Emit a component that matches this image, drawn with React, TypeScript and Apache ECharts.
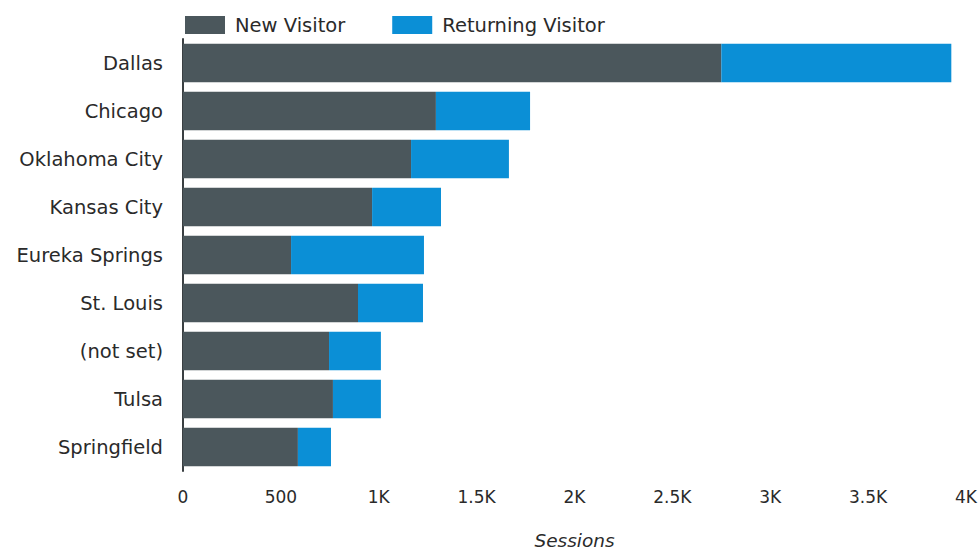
import React, { useEffect, useRef } from "react";
import * as echarts from "echarts";

const categories = ["Dallas", "Chicago", "Oklahoma City", "Kansas City", "Eureka Springs", "St. Louis", "(not set)", "Tulsa", "Springfield"];
const newVisitor = [2750, 1292, 1165, 966, 552, 894, 746, 766, 587];
const returningVisitor = [1175, 481, 500, 352, 679, 332, 265, 245, 169];
const xTicks = [0, 500, 1000, 1500, 2000, 2500, 3000, 3500, 4000];

const FONT = "'DejaVu Sans', sans-serif";

export default function App() {
  const ref = useRef<HTMLDivElement>(null);
  useEffect(() => {
    const chart = echarts.init(ref.current!, null, { renderer: "svg" });
    const fmt = (v: number) => (v === 0 ? "0" : v >= 1000 ? `${v / 1000}K` : `${v}`);
    chart.setOption({
      animation: false,
      textStyle: { fontFamily: FONT },
      legend: {
        top: 10,
        left: 180,
        itemWidth: 40,
        itemHeight: 18,
        itemGap: 47,
        icon: "rect",
        textStyle: { fontSize: 19.5, color: "#2a2a2a", fontFamily: FONT, padding: [0, 0, 0, 5] },
        data: ["New Visitor", "Returning Visitor"],
      },
      grid: { left: 183, right: 14, top: 39, height: 440, containLabel: false },
      xAxis: {
        type: "value",
        min: 0,
        max: xTicks[xTicks.length - 1],
        interval: 500,
        axisLine: { show: false },
        axisTick: { show: false },
        splitLine: { show: false },
        axisLabel: { formatter: fmt, fontSize: 17, color: "#2a2a2a", margin: 17, fontFamily: FONT },
        name: "Sessions",
        nameLocation: "middle",
        nameGap: 60,
        nameTextStyle: { fontSize: 18.5, fontStyle: "italic", color: "#2a2a2a", fontFamily: FONT },
      },
      yAxis: {
        type: "category",
        inverse: true,
        data: categories,
        axisLine: { show: true, lineStyle: { color: "#3a3f42", width: 2 } },
        axisTick: { show: false },
        axisLabel: { fontSize: 19.5, color: "#2a2a2a", margin: 20, fontFamily: FONT },
      },
      series: [
        {
          name: "New Visitor",
          type: "bar",
          stack: "s",
          data: newVisitor,
          barCategoryGap: "20%",
          itemStyle: { color: "#4b575c" },
        },
        {
          name: "Returning Visitor",
          type: "bar",
          stack: "s",
          data: returningVisitor,
          itemStyle: { color: "#0b8fd6" },
        },
      ],
    });
    return () => chart.dispose();
  }, []);
  return <div ref={ref} style={{ width: 980, height: 555, position: "absolute", left: 0, top: 0 }} />;
}
